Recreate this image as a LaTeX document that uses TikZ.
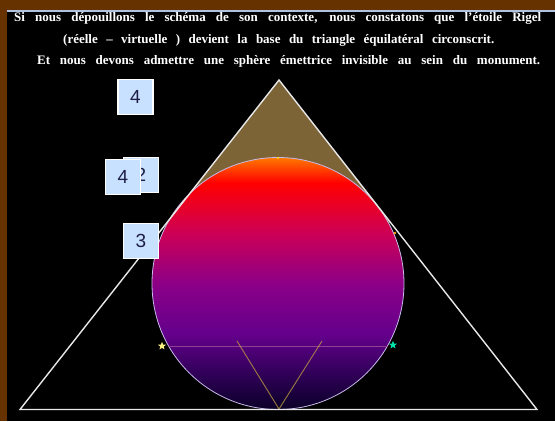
\documentclass[tikz,border=0pt]{standalone}
\usepackage{fontspec}
\setmainfont{Liberation Serif}
\newfontfamily\labfont{Liberation Sans}
\usetikzlibrary{shapes.geometric}
\definecolor{framebrown}{RGB}{102,51,0}
\definecolor{lineblue}{RGB}{175,195,225}
\definecolor{pyrbrown}{RGB}{125,100,55}
\definecolor{labblue}{RGB}{200,225,255}
\definecolor{labtext}{RGB}{30,30,70}
\definecolor{sA}{RGB}{10,0,40}
\definecolor{sB}{RGB}{50,0,90}
\definecolor{sC}{RGB}{100,0,140}
\definecolor{sD}{RGB}{140,0,135}
\definecolor{sE}{RGB}{205,0,85}
\definecolor{sF}{RGB}{255,0,0}
\definecolor{sG}{RGB}{255,120,0}
\definecolor{rimcol}{RGB}{200,185,235}
\definecolor{hlinecol}{RGB}{150,60,150}
\definecolor{vlinecol}{RGB}{205,175,60}
\definecolor{staryellow}{RGB}{250,240,130}
\definecolor{starcyan}{RGB}{0,225,170}
\definecolor{trigray}{RGB}{232,232,232}
\pgfdeclareverticalshading{sphereshade}{100bp}{color(0bp)=(sA); color(25bp)=(sA); color(32.5bp)=(sB); color(40bp)=(sC); color(50bp)=(sD); color(60bp)=(sE); color(70bp)=(sF); color(75bp)=(sG); color(100bp)=(sG)}
\begin{document}
\begin{tikzpicture}[x=1pt,y=-1pt,
  triline/.style={draw=trigray, line width=1.4pt, line join=miter},
  lab/.style={draw=white, line width=1.2pt, fill=labblue, text=labtext, minimum width=35pt, minimum height=35pt, inner sep=0pt, font=\labfont\fontsize{19}{19}\selectfont},
  txt/.style={anchor=west, inner sep=0pt, text=white, font=\bfseries\fontsize{13}{15}\selectfont},
  starmark/.style={star, star points=5, star point ratio=2.3, minimum size=8.5pt, inner sep=0pt}]
\useasboundingbox (0,0) rectangle (555,421);
\fill[framebrown] (0,0) rectangle (555,421);
\fill[black] (7,12) rectangle (555,421);
\fill[lineblue] (7,9.5) rectangle (555,12);
% triangle corners
\coordinate (A) at (279,80);
\coordinate (B) at (20,409.5);
\coordinate (C) at (537,409.5);
% brown pyramid top
\begin{scope}
  \clip (0,0) rectangle (555,222);
  \fill[pyrbrown] (A) -- (B) -- (C) -- cycle;
\end{scope}
% sphere
\node[circle, minimum size=252pt, inner sep=0pt, shading=sphereshade, draw=rimcol, line width=0.8pt] (sphere) at (278,283.5) {};
% inner lines
\coordinate (hl) at (168.5,346);
\coordinate (hr) at (387.5,346);
\draw[hlinecol, line width=0.8pt] (hl) -- (hr);
\coordinate (vl) at (237,341);
\coordinate (vb) at (279,409);
\coordinate (vr) at (322,341);
\draw[vlinecol, opacity=0.7, line width=0.9pt] (vl) -- (vb) -- (vr);
% small marks
\fill[yellow!80!orange] (278,158) circle (1.2);
\fill[orange!70!yellow] (395,233) circle (1.3);
% triangle outline
\draw[triline] (A) -- (B) -- (C) -- cycle;
% stars
\node[starmark, fill=staryellow] (sy) at (162,346) {};
\node[starmark, fill=starcyan] (sc) at (393,345) {};
% labels
\node[lab] (l4a) at (135.5,97) {4};
\node[lab] (l2) at (141,175) {2};
\node[lab] (l4b) at (123,177) {4};
\node[lab] (l3) at (141,241) {3};
% text
\node[txt] (t1) at (14,18) {\makebox[527pt][s]{Si nous dépouillons le schéma de son contexte, nous constatons que l'étoile Rigel}};
\node[txt] (t2) at (63,40) {\makebox[431pt][s]{(réelle – virtuelle ) devient la base du triangle équilatéral circonscrit.}};
\node[txt] (t3) at (37,61) {\makebox[503pt][s]{Et nous devons admettre une sphère émettrice invisible au sein du monument.}};
\end{tikzpicture}
\end{document}
